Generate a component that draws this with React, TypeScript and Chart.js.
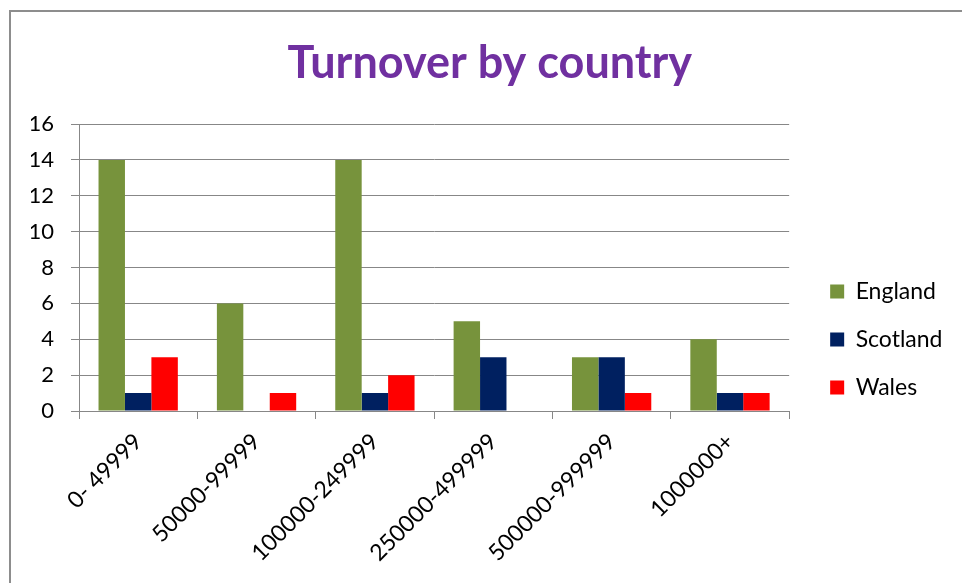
import React, { useEffect, useRef } from 'react';
import { Chart, registerables } from 'chart.js';

Chart.register(...registerables);

const categories = ['0- 49999', '50000-99999', '100000-249999', '250000-499999', '500000-999999', '1000000+'];
const seriesNames = ['England', 'Scotland', 'Wales'];
const england = [14, 6, 14, 5, 3, 4];
const scotland = [1, 0, 1, 3, 3, 1];
const wales = [3, 1, 2, 0, 1, 1];
const yMin = 0;
const yMax = 16;
const yStep = 2;

const COLORS = ['#77933C', '#002060', '#FF0000'];
const GRID = '#878787';
const FONT = 'Lato, "Liberation Sans", sans-serif';

const LEG_DX = 16;
const LEG_DY = 48;
const TITLE_DX = 6;

const layoutShift = {
  id: 'layoutShift',
  afterLayout(chart: any) {
    const l = chart.legend;
    if (l) {
      l.left += LEG_DX;
      l.right += LEG_DX;
      l.top += LEG_DY;
      l.bottom += LEG_DY;
    }
    const t = chart.titleBlock;
    if (t) {
      t.left += TITLE_DX;
      t.right += TITLE_DX;
    }
  },
};

export default function App() {
  const ref = useRef<HTMLCanvasElement | null>(null);

  useEffect(() => {
    if (!ref.current) return;
    const data = [england, scotland, wales];
    const chart = new Chart(ref.current, {
      type: 'bar',
      data: {
        labels: categories,
        datasets: seriesNames.map((name, i) => ({
          label: name,
          data: data[i],
          backgroundColor: COLORS[i],
          borderWidth: 0,
          categoryPercentage: 0.67,
          barPercentage: 1.0,
        })),
      },
      options: {
        responsive: false,
        animation: false,
        layout: { padding: { left: 31, right: 25.5, top: 0, bottom: 0 } },
        plugins: {
          title: {
            display: true,
            text: 'Turnover by country',
            color: '#7030A0',
            font: { family: FONT, size: 45, weight: 'bold', lineHeight: 1.2 },
            padding: { top: 36, bottom: 34 },
          },
          legend: {
            position: 'right',
            align: 'center',
            labels: {
              boxWidth: 14,
              boxHeight: 14,
              padding: 25,
              color: '#000',
              font: { family: FONT, size: 23 },
            },
          },
          tooltip: { enabled: false },
        },
        scales: {
          x: {
            offset: true,
            grid: { drawOnChartArea: false, drawTicks: true, tickLength: 8, color: GRID, offset: true },
            border: { display: true, color: GRID, width: 1 },
            ticks: {
              autoSkip: false,
              minRotation: 45,
              maxRotation: 45,
              padding: 9,
              color: '#000',
              font: { family: FONT, size: 23 },
            },
            afterFit: (s: any) => { s.height = 172; },
          },
          y: {
            min: yMin,
            max: yMax,
            ticks: {
              stepSize: yStep,
              padding: 17,
              color: '#000',
              font: { family: FONT, size: 22 },
            },
            grid: { color: GRID, tickLength: 8 },
            border: { display: true, color: GRID, width: 1 },
            afterFit: (s: any) => { s.width = 48; },
          },
        },
      },
      plugins: [layoutShift],
    });
    return () => chart.destroy();
  }, []);

  return (
    <div style={{ position: 'fixed', left: 0, top: 0, width: 962, height: 583, overflow: 'hidden', background: '#fff' }}>
      <div style={{ position: 'absolute', left: 9, top: 10, width: 1200, height: 1200, borderLeft: '2px solid #8d8d8d', borderTop: '2px solid #8d8d8d' }} />
      <canvas ref={ref} width={962} height={583} style={{ position: 'absolute', left: 0, top: 0 }} />
    </div>
  );
}
